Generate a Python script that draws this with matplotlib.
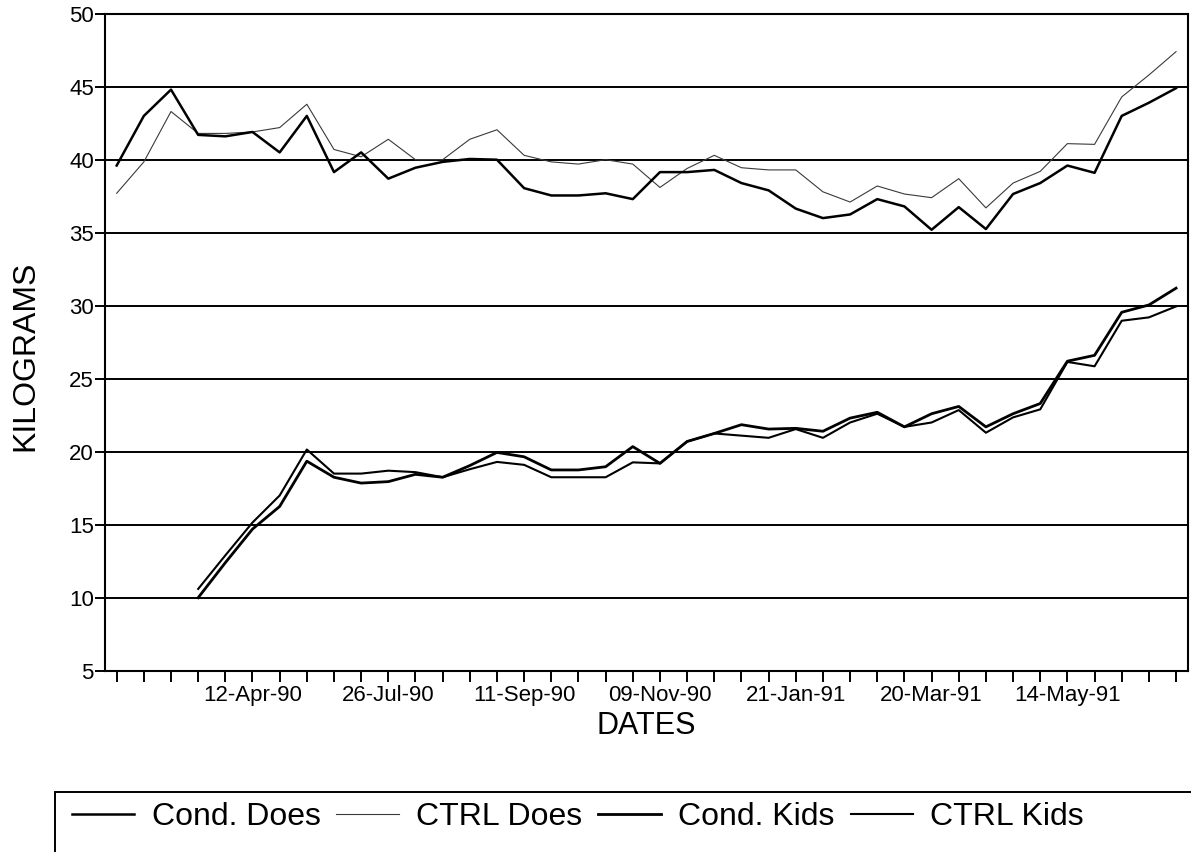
import matplotlib
matplotlib.use('Agg')
import matplotlib.pyplot as plt
import numpy as np
from matplotlib.patches import Rectangle

plt.rcParams['font.family'] = ['Liberation Sans', 'DejaVu Sans']

nan = np.nan

# weights in kg, one reading per tick (40 weigh-ins), kids start at the 4th
cond_does = [39.6, 43.0, 44.8, 41.7, 41.6, 41.9, 40.5, 43.0, 39.15, 40.5,
             38.7, 39.45, 39.85, 40.05, 40.0, 38.05, 37.55, 37.55, 37.7, 37.3,
             39.15, 39.15, 39.3, 38.4, 37.9, 36.65, 36.0, 36.25, 37.3, 36.8,
             35.2, 36.75, 35.25, 37.65, 38.4, 39.6, 39.1, 43.0, 43.9, 44.9]
ctrl_does = [37.7, 39.85, 43.3, 41.8, 41.8, 41.9, 42.2, 43.8, 40.7, 40.2,
             41.4, 40.0, 40.0, 41.4, 42.05, 40.3, 39.85, 39.7, 40.0, 39.7,
             38.1, 39.4, 40.3, 39.45, 39.3, 39.3, 37.8, 37.1, 38.2, 37.65,
             37.4, 38.7, 36.7, 38.4, 39.2, 41.1, 41.05, 44.3, 45.8, 47.4]
cond_kids = [nan, nan, nan, 10.0, 12.4, 14.7, 16.25, 19.35, 18.25, 17.85,
             17.95, 18.45, 18.25, 19.05, 19.95, 19.65, 18.75, 18.75, 18.97, 20.35,
             19.2, 20.7, 21.25, 21.85, 21.55, 21.6, 21.4, 22.3, 22.7, 21.7,
             22.6, 23.1, 21.7, 22.6, 23.3, 26.2, 26.6, 29.55, 30.05, 31.2]
ctrl_kids = [nan, nan, nan, 10.6, 12.9, 15.15, 17.0, 20.15, 18.5, 18.5,
             18.7, 18.6, 18.25, 18.8, 19.3, 19.1, 18.25, 18.25, 18.25, 19.27,
             19.2, 20.7, 21.25, 21.1, 20.95, 21.55, 20.95, 22.0, 22.6, 21.7,
             22.0, 22.85, 21.3, 22.35, 22.9, 26.15, 25.85, 28.97, 29.2, 29.95]

date_labels = ['12-Apr-90', '26-Jul-90', '11-Sep-90', '09-Nov-90',
               '21-Jan-91', '20-Mar-91', '14-May-91']
label_step = 5

fig = plt.figure(figsize=(11.91, 8.52), dpi=100)
W, H = 1191, 852
ax = fig.add_axes([105 / W, 1 - 670.7 / H, (1188 - 105) / W, (670.7 - 13.7) / H])

x = np.arange(len(cond_does))
l1, = ax.plot(x, cond_does, color='black', lw=1.8, zorder=4)
l2, = ax.plot(x, ctrl_does, color='#3a3a3a', lw=0.8, zorder=3)
l3, = ax.plot(x, cond_kids, color='black', lw=2.0, zorder=4)
l4, = ax.plot(x, ctrl_kids, color='black', lw=1.5, zorder=3)

ax.set_xlim(-0.43, 39.44)
ax.set_ylim(5, 50)
ax.set_yticks(range(5, 51, 5))
ax.yaxis.grid(True, color='black', lw=1.4)
ax.set_axisbelow(True)

xt = [''] * len(x)
for k, lab in enumerate(date_labels):
    xt[(k + 1) * label_step] = lab
ax.set_xticks(x)
ax.set_xticklabels(xt)

ax.tick_params(axis='y', direction='out', length=7, width=1.4, labelsize=16, pad=1)
ax.tick_params(axis='x', direction='out', length=8, width=1.4, labelsize=16, pad=2)
for s in ax.spines.values():
    s.set_linewidth(1.5)

ax.set_ylabel('KILOGRAMS', fontsize=23)
ax.yaxis.set_label_coords(-0.06, 0.48)
ax.set_xlabel('DATES', fontsize=22)
ax.xaxis.set_label_coords(0.5, -0.062)

fig.legend([l1, l2, l3, l4], ['Cond. Does', 'CTRL Does', 'Cond. Kids', 'CTRL Kids'],
           loc='center left', bbox_to_anchor=(71.7 / W, 1 - 817 / H), ncol=4,
           frameon=False, fontsize=23, handlelength=1.95, handletextpad=0.55,
           columnspacing=0.5, borderpad=0, borderaxespad=0)
fig.add_artist(Rectangle((55 / W, -0.1), 1.2, 0.1 + (H - 791.7) / H,
                         transform=fig.transFigure, fill=False, lw=1.4,
                         ec='black', clip_on=False))

fig.savefig('out.png', dpi=100)
